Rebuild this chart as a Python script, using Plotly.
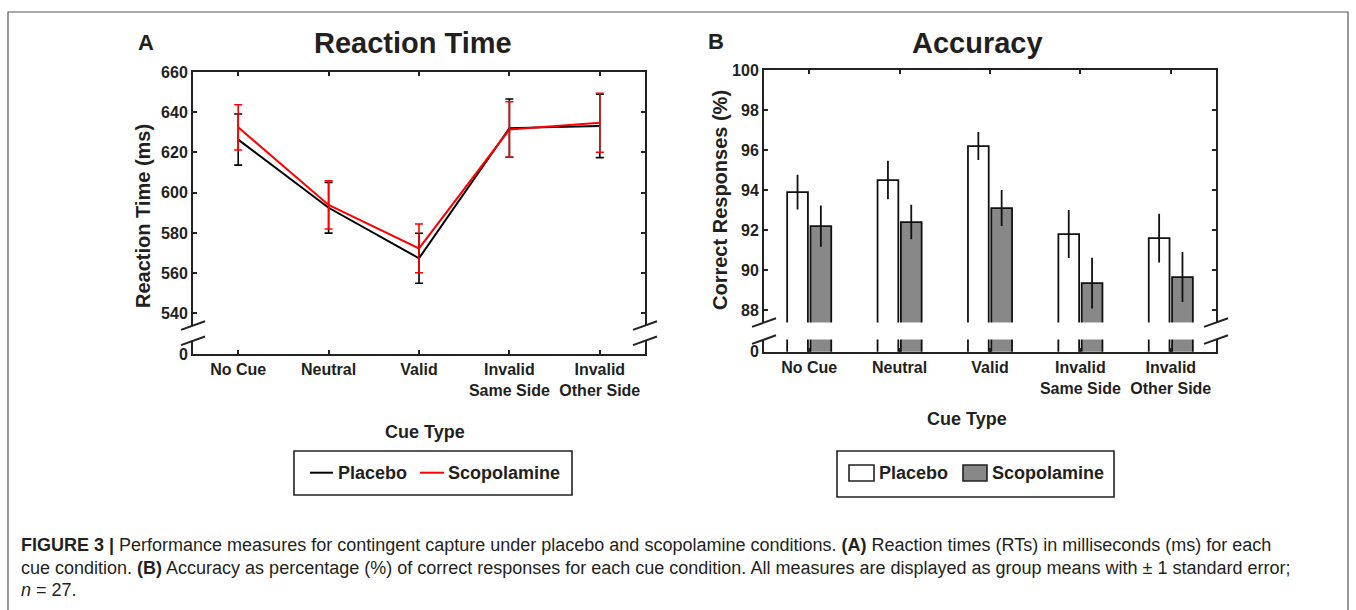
import plotly.graph_objects as go

# ---------------- data ----------------
categories = ["No Cue", "Neutral", "Valid", "Invalid<br>Same Side", "Invalid<br>Other Side"]

rt_placebo = [626.4, 592.5, 567.4, 632.1, 633.2]
rt_placebo_se = [12.7, 12.6, 12.45, 14.5, 15.75]
rt_scop = [632.5, 593.9, 572.3, 631.4, 634.75]
rt_scop_se = [11.25, 11.95, 12.1, 13.8, 14.65]

acc_placebo = [93.9, 94.5, 96.2, 91.8, 91.6]
acc_placebo_se = [0.87, 0.96, 0.70, 1.20, 1.22]
acc_scop = [92.2, 92.4, 93.1, 89.35, 89.65]
acc_scop_se = [1.03, 0.86, 0.90, 1.27, 1.25]

rt_ticks = [540, 560, 580, 600, 620, 640, 660]
acc_ticks = [88, 90, 92, 94, 96, 98, 100]
series_names = ["Placebo", "Scopolamine"]

# ---------------- layout constants ----------------
W, H = 1356, 610
FONT = "Liberation Sans, Arial, Helvetica, sans-serif"
CAP_FONT = "Liberation Sans Narrow, Arial Narrow, Liberation Sans, sans-serif"
TXT = "#231f20"
AX = "#222222"
RED = "#ff0000"
GRAY = "#888888"

RT_MIN = 519.8        # value drawn at the "0" position (broken axis)
ACC_MIN = 85.92
RT_BREAK = (526.34, 533.94)
ACC_BREAK = (86.525, 87.375)


def px(x):
    return x / W


def py(y):
    return 1 - y / H


fig = go.Figure()

# Panel A: reaction time lines with error bars
for vals, se, col, name in [(rt_placebo, rt_placebo_se, "#000000", series_names[0]),
                            (rt_scop, rt_scop_se, RED, series_names[1])]:
    fig.add_trace(go.Scatter(
        x=categories, y=vals, mode="lines", name=name,
        line=dict(color=col, width=2),
        error_y=dict(type="data", array=se, visible=True, color=col, thickness=1.6, width=4),
        xaxis="x", yaxis="y", showlegend=False, hoverinfo="skip"))

# Panel B: accuracy bars with error bars
for vals, se, col, name in [(acc_placebo, acc_placebo_se, "#ffffff", series_names[0]),
                            (acc_scop, acc_scop_se, GRAY, series_names[1])]:
    fig.add_trace(go.Bar(
        x=categories, y=vals, name=name,
        marker=dict(color=col, line=dict(color="#111111", width=1.8)),
        error_y=dict(type="data", array=se, visible=True, color="#111111", thickness=1.8, width=0),
        xaxis="x2", yaxis="y2", showlegend=False, hoverinfo="skip"))

common_axis = dict(showline=True, linewidth=2, linecolor=AX, mirror="ticks",
                   ticks="inside", ticklen=4, tickwidth=1.5, tickcolor=AX,
                   showgrid=False, zeroline=False, automargin=False,
                   tickfont=dict(family=FONT, size=16, color=TXT, weight="bold"))

fig.update_layout(
    width=W, height=H, template="none",
    margin=dict(l=0, r=0, t=0, b=0),
    paper_bgcolor="white", plot_bgcolor="white",
    barmode="group", bargap=0.484, bargroupgap=0.11,
    xaxis=dict(domain=[px(193), px(645)], range=[-0.5, 4.5], anchor="y", **common_axis),
    yaxis=dict(domain=[py(354), py(72)], range=[RT_MIN, 660], anchor="x",
               tickvals=[RT_MIN] + rt_ticks, ticktext=["0"] + [str(t) for t in rt_ticks],
               **common_axis),
    xaxis2=dict(domain=[px(764), px(1216)], range=[-0.5, 4.5], anchor="y2", **common_axis),
    yaxis2=dict(domain=[py(351.7), py(70)], range=[ACC_MIN, 100], anchor="x2",
                tickvals=[ACC_MIN] + acc_ticks, ticktext=["0"] + [str(t) for t in acc_ticks],
                **common_axis),
)

shapes = []
# broken-axis white bands and slashes
for xr, yr, brk, x_left, x_right in [("x domain", "y", RT_BREAK, 193, 645),
                                     ("x2 domain", "y2", ACC_BREAK, 764, 1216)]:
    shapes.append(dict(type="rect", xref=xr, yref=yr, x0=-0.012, x1=1.012, y0=brk[0], y1=brk[1],
                       fillcolor="white", line=dict(width=0), layer="above"))
    for xc in (x_left, x_right):
        for yv in brk:
            shapes.append(dict(type="line", xref="paper", yref=yr,
                               x0=px(xc - 12), x1=px(xc + 12),
                               ysizemode="pixel", yanchor=yv, y0=-4.3, y1=4.3,
                               line=dict(color=AX, width=2), layer="above"))

# outer frame
shapes.append(dict(type="rect", xref="paper", yref="paper", x0=px(8), x1=px(1348),
                   y0=py(640), y1=py(12), line=dict(color="#555555", width=1.2),
                   fillcolor="rgba(0,0,0,0)", layer="below"))

# legend A
shapes.append(dict(type="rect", xref="paper", yref="paper", x0=px(294), x1=px(572),
                   y0=py(495), y1=py(451), line=dict(color=AX, width=1.6)))
shapes.append(dict(type="line", xref="paper", yref="paper", x0=px(310), x1=px(333),
                   y0=py(472.7), y1=py(472.7), line=dict(color="#000000", width=2)))
shapes.append(dict(type="line", xref="paper", yref="paper", x0=px(420), x1=px(444),
                   y0=py(472.7), y1=py(472.7), line=dict(color=RED, width=2)))
# legend B
shapes.append(dict(type="rect", xref="paper", yref="paper", x0=px(837), x1=px(1114),
                   y0=py(497), y1=py(451), line=dict(color=AX, width=1.6)))
shapes.append(dict(type="rect", xref="paper", yref="paper", x0=px(849), x1=px(874),
                   y0=py(481), y1=py(465), fillcolor="#ffffff", line=dict(color=AX, width=1.6)))
shapes.append(dict(type="rect", xref="paper", yref="paper", x0=px(963), x1=px(987),
                   y0=py(481), y1=py(465), fillcolor=GRAY, line=dict(color=AX, width=1.6)))

fig.update_layout(shapes=shapes)

anns = []


def ann(text, x, y, size, xanchor="center", angle=0, bold=True, family=FONT, color=TXT):
    anns.append(dict(text=text, x=px(x), y=py(y), xref="paper", yref="paper",
                     xanchor=xanchor, yanchor="middle", showarrow=False, textangle=angle,
                     font=dict(family=family, size=size, color=color,
                               weight="bold" if bold else "normal")))


ann("A", 146, 42, 22)
ann("Reaction Time", 413, 43, 29)
ann("B", 715.5, 41, 22)
ann("Accuracy", 977.6, 43, 29)
ann("Reaction Time (ms)", 143, 216, 20, angle=-90)
ann("Correct Responses (%)", 720, 200, 20, angle=-90)
ann("Cue Type", 425, 432, 18)
ann("Cue Type", 967, 419, 18)
ann(series_names[0], 336, 473, 18, xanchor="left")
ann(series_names[1], 446, 473, 18, xanchor="left")
ann(series_names[0], 877, 473, 18, xanchor="left")
ann(series_names[1], 990, 473, 18, xanchor="left")

cap1 = ("<b>FIGURE 3 |</b> Performance measures for contingent capture under placebo and "
        "scopolamine conditions. <b>(A)</b> Reaction times (RTs) in milliseconds (ms) for each")
cap2 = ("cue condition. <b>(B)</b> Accuracy as percentage (%) of correct responses for each cue "
        "condition. All measures are displayed as group means with \u00b1 1 standard error;")
cap3 = "<i>n</i> = 27."
ann(cap1, 19, 545, 18, xanchor="left", bold=False, family=CAP_FONT)
ann(cap2, 19, 567.5, 18, xanchor="left", bold=False, family=CAP_FONT)
ann(cap3, 19, 590, 18, xanchor="left", bold=False, family=CAP_FONT)

fig.update_layout(annotations=anns)

fig.write_html("out.html")
